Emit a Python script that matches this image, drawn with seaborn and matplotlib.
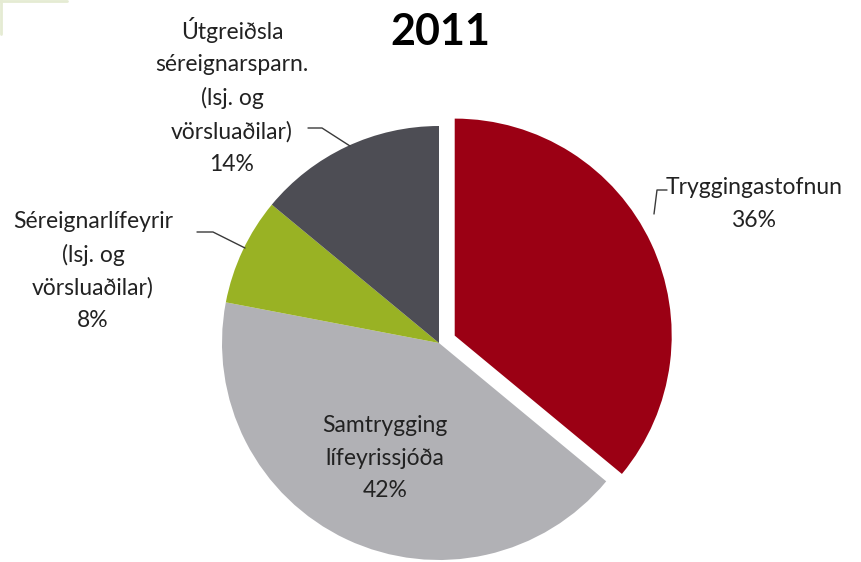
import matplotlib
matplotlib.use("Agg")
import matplotlib.pyplot as plt
import seaborn as sns
from matplotlib.lines import Line2D

sns.set_theme(style="white")
plt.rcParams['font.family'] = ['Lato', 'DejaVu Sans']

# Gögn
labels = ['Tryggingastofnun', 'Samtrygging\nlífeyrissjóða',
          'Séreignarlífeyrir\n(lsj. og\nvörsluaðilar)',
          'Útgreiðsla\nséreignarsparn.\n(lsj. og\nvörsluaðilar)']
shares = [36, 42, 8, 14]
colors = ['#9b0014', '#b1b1b5', '#99b224', '#4d4d54']
explode = [0.08, 0, 0, 0]

fig = plt.figure(figsize=(8.61, 5.62), dpi=100)
ax = fig.add_axes([0, 0, 1, 1])

wedges, _ = ax.pie(shares, colors=colors, explode=explode, startangle=90,
                   counterclock=False, radius=1.0,
                   wedgeprops=dict(linewidth=0))

# pixel -> data: center (439, 343), radius 217 px
R, CX, CY = 217.0, 439.0, 343.0
ax.set_xlim((0 - CX) / R, (861 - CX) / R)
ax.set_ylim((CY - 562) / R, (CY - 0) / R)
ax.set_aspect('auto')
ax.axis('off')
for w in wedges:
    w.set_clip_on(False)


def px(x, y):
    return (x - CX) / R, (CY - y) / R


txt = dict(fontsize=16.5, color='#222222', ha='center', va='center', linespacing=1.66)

# Merkingar
ax.text(*px(754, 204), f"{labels[0]}\n{shares[0]}%", **txt)
ax.text(*px(385, 458), f"{labels[1]}\n{shares[1]}%", **txt)
ax.text(*px(93, 271), f"{labels[2]}\n{shares[2]}%", **txt)
ax.text(*px(232, 96), f"{labels[3]}\n{shares[3]}%", **txt)

# Vísilínur
lc = '#3a3a3a'
for pts in [[(667, 190), (657, 190), (654, 214)],
            [(197, 232), (213, 232), (245, 248)],
            [(308, 128), (322, 128), (350, 146)]]:
    xs, ys = zip(*[px(x, y) for x, y in pts])
    ax.add_line(Line2D(xs, ys, color=lc, lw=1.0))

ax.text(*px(440, 32), '2011', fontsize=31, fontweight='bold', color='black',
        ha='center', va='center')

# Leifar af ramma efst til vinstri
fig.add_artist(Line2D([0, 67 / 861], [1 - 1 / 562, 1 - 1 / 562],
                      color='#e5ebd3', lw=2, transform=fig.transFigure))
fig.add_artist(Line2D([1 / 861, 1 / 861], [1, 1 - 34 / 562],
                      color='#e5ebd3', lw=2, transform=fig.transFigure))

fig.savefig('out.png', dpi=100, facecolor='white')
